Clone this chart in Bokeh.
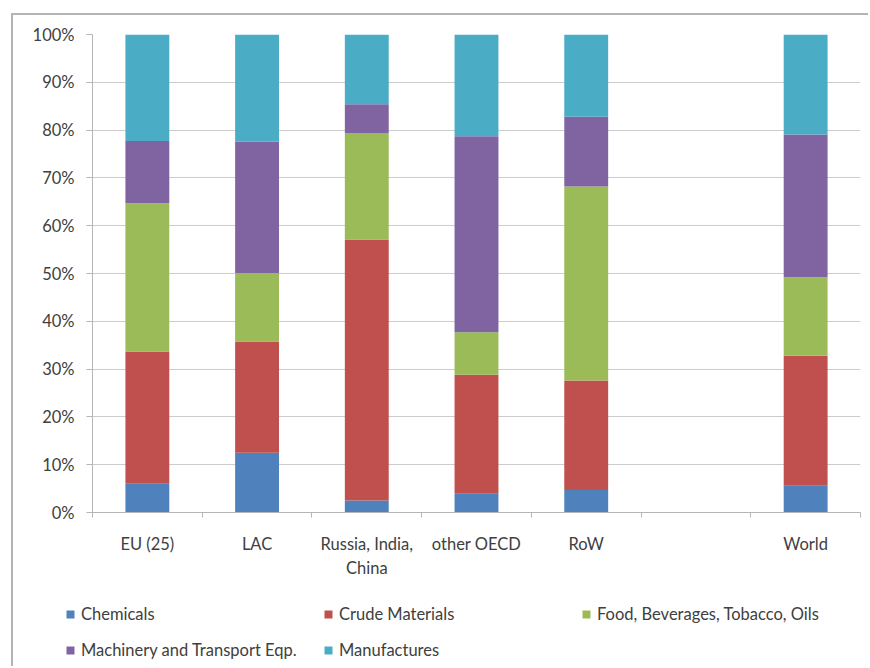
from bokeh.plotting import figure
from bokeh.layouts import column
from bokeh.models import (ColumnDataSource, FixedTicker, Legend, LegendItem, Range1d)
from bokeh.embed import file_html
from bokeh.resources import INLINE

# ---- data (shares in %) ----
categories = ["EU (25)", "LAC", "Russia, India,\nChina", "other OECD", "RoW", "", "World"]
series = ["Chemicals", "Crude Materials", "Food, Beverages, Tobacco, Oils",
          "Machinery and Transport Eqp.", "Manufactures"]
chemicals = [6.0, 12.5, 2.5, 3.9, 4.7, 0, 5.6]
crude = [27.7, 23.3, 54.6, 24.9, 22.9, 0, 27.2]
food = [31.0, 14.3, 22.3, 8.9, 40.6, 0, 16.4]
machinery = [13.0, 27.5, 6.0, 41.0, 14.6, 0, 29.9]
manufactures = [22.3, 22.4, 14.6, 21.3, 17.2, 0, 20.9]
y_ticks = [0, 10, 20, 30, 40, 50, 60, 70, 80, 90, 100]
y_tick_labels = [f"{t}%" for t in y_ticks]

colors = ["#4F81BD", "#C0504D", "#9BBB59", "#8064A2", "#4BACC6"]
FONT = "Lato"
FS = "16.5px"
TXT = "#404040"

x_centers = [i + 0.5 for i in range(len(categories))]
x_bounds = [float(i) for i in range(len(categories) + 1)]

src = ColumnDataSource(dict(x=x_centers, s0=chemicals, s1=crude, s2=food,
                            s3=machinery, s4=manufactures))

W = 857
p = figure(width=W, height=575, output_backend="svg", toolbar_location=None,
           x_range=Range1d(0, len(categories)), y_range=Range1d(0, 100),
           min_border_left=79, min_border_right=10, min_border_top=19,
           min_border_bottom=78)
p.frame_align = False
p.outline_line_color = None
p.background_fill_color = "white"
p.border_fill_color = "white"

rs = p.vbar_stack(["s0", "s1", "s2", "s3", "s4"], x="x", width=0.4,
                  color=colors, line_color=None, source=src)

# axes
xa = p.xaxis[0]
xa.ticker = FixedTicker(ticks=x_centers, minor_ticks=x_bounds)
xa.major_label_overrides = {c: lab for c, lab in zip(x_centers, categories)}
xa.major_tick_line_color = None
xa.major_tick_out = 0
xa.major_tick_in = 0
xa.minor_tick_out = 5
xa.minor_tick_in = 0
xa.minor_tick_line_color = "#b5b5b5"
xa.axis_line_color = "#b5b5b5"
xa.major_label_standoff = 16
xa.major_label_text_font = FONT
xa.major_label_text_font_size = FS
xa.major_label_text_color = TXT

ya = p.yaxis[0]
ya.ticker = FixedTicker(ticks=y_ticks)
ya.major_label_overrides = {t: lab for t, lab in zip(y_ticks, y_tick_labels)}
ya.major_tick_out = 6
ya.major_tick_in = 0
ya.major_tick_line_color = "#b5b5b5"
ya.minor_tick_line_color = None
ya.axis_line_color = "#b5b5b5"
ya.major_label_standoff = 12
ya.major_label_text_font = FONT
ya.major_label_text_font_size = FS
ya.major_label_text_color = TXT

p.xgrid.grid_line_color = None
p.ygrid.grid_line_color = "#cccccc"
p.ygrid.ticker = FixedTicker(ticks=y_ticks)

# legend figure below the chart (legend swatches = zero-height bars)
lf = figure(width=W, height=78, output_backend="svg", toolbar_location=None,
            x_range=Range1d(0, 1), y_range=Range1d(0, 1),
            min_border_left=0, min_border_right=0, min_border_top=0,
            min_border_bottom=0)
lf.frame_align = False
lf.axis.visible = False
lf.grid.visible = False
lf.outline_line_color = None
lf.border_fill_color = "white"
leg_src = ColumnDataSource(dict(x=[0.0], top=[0.0]))
leg_renderers = [lf.vbar(x="x", top="top", width=0.0, color=c, line_color=None,
                         source=leg_src)
                 for c in colors]
# order so that column-major filling gives rows: [0,1,2] / [3,4]
order = [0, 3, 1, 4, 2]
items = [LegendItem(label=series[i], renderers=[leg_renderers[i]]) for i in order]
lg = Legend(items=items, location=(52, 0), ncols=3,
            padding=0, margin=0, spacing=0,
            glyph_width=10, glyph_height=10, label_standoff=6,
            label_height=36, label_width=242,
            border_line_color=None, background_fill_alpha=0,
            label_text_font=FONT, label_text_font_size=FS,
            label_text_color=TXT)
lf.add_layout(lg, "center")

lay = column(p, lf, spacing=0, margin=(15, 0, 0, 13))
lay.styles = {"box-shadow": "-2px -2px 0 0 #b4b4b4", "background": "white"}

open("out.html", "w").write(file_html(lay, INLINE))
